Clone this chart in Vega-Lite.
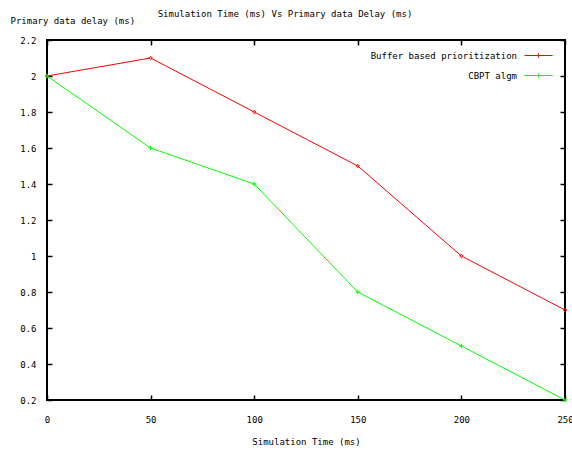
{
  "$schema": "https://vega.github.io/schema/vega-lite/v6.json",
  "width": 518,
  "height": 360,
  "autosize": {"type": "none"},
  "padding": {"left": 47, "top": 40, "right": 7, "bottom": 53},
  "background": "white",
  "title": {
    "text": "Simulation Time (ms) Vs Primary data Delay (ms)",
    "anchor": "middle",
    "frame": "group",
    "dx": -21,
    "offset": -3,
    "font": "DejaVu Sans Mono",
    "fontSize": 9,
    "fontWeight": "normal",
    "color": "black"
  },
  "config": {
    "view": {"stroke": "black", "strokeWidth": 2},
    "axis": {
      "domain": false,
      "grid": false,
      "labelFont": "DejaVu Sans Mono",
      "labelFontSize": 9,
      "labelColor": "black",
      "titleFont": "DejaVu Sans Mono",
      "titleFontSize": 9,
      "titleFontWeight": "normal",
      "titleColor": "black",
      "tickColor": "black",
      "tickSize": -5,
      "tickWidth": 1.5,
      "labelFlush": false,
      "labelOverlap": false
    },
    "legend": {
      "labelFont": "DejaVu Sans Mono",
      "labelFontSize": 9,
      "labelColor": "black"
    }
  },
  "data": {
    "values": [
      {"time": 0, "delay": 2.0, "series": "Buffer based prioritization"},
      {"time": 50, "delay": 2.1, "series": "Buffer based prioritization"},
      {"time": 100, "delay": 1.8, "series": "Buffer based prioritization"},
      {"time": 150, "delay": 1.5, "series": "Buffer based prioritization"},
      {"time": 200, "delay": 1.0, "series": "Buffer based prioritization"},
      {"time": 250, "delay": 0.7, "series": "Buffer based prioritization"},
      {"time": 0, "delay": 2.0, "series": "CBPT algm"},
      {"time": 50, "delay": 1.6, "series": "CBPT algm"},
      {"time": 100, "delay": 1.4, "series": "CBPT algm"},
      {"time": 150, "delay": 0.8, "series": "CBPT algm"},
      {"time": 200, "delay": 0.5, "series": "CBPT algm"},
      {"time": 250, "delay": 0.2, "series": "CBPT algm"}
    ]
  },
  "layer": [
    {
      "mark": {"type": "line", "strokeWidth": 1, "clip": false},
      "encoding": {
        "x": {
          "field": "time", "type": "quantitative",
          "scale": {"domain": [0, 250], "nice": false},
          "axis": {
            "orient": "bottom",
            "values": [0, 50, 100, 150, 200, 250],
            "labelPadding": 20,
            "title": "Simulation Time (ms)",
            "titleY": 41,
            "titleBaseline": "middle"
          }
        },
        "y": {
          "field": "delay", "type": "quantitative",
          "scale": {"domain": [0.2, 2.2], "nice": false, "zero": false},
          "axis": {
            "orient": "left",
            "values": [0.2, 0.4, 0.6, 0.8, 1.0, 1.2, 1.4, 1.6, 1.8, 2.0, 2.2],
            "format": ".1~f",
            "labelPadding": 16,
            "title": "Primary data delay (ms)",
            "titleAngle": 0,
            "titleAlign": "left",
            "titleBaseline": "middle",
            "titleX": -37,
            "titleY": -20
          }
        },
        "color": {
          "field": "series", "type": "nominal",
          "scale": {
            "domain": ["Buffer based prioritization", "CBPT algm"],
            "range": ["#ff0000", "#00ff00"]
          },
          "legend": {
            "title": null,
            "orient": "none",
            "legendX": 477,
            "legendY": 1,
            "symbolType": "M-1,0H1M0,-0.15V0.15",
            "symbolSize": 784,
            "symbolStrokeWidth": 1,
            "labelAlign": "right",
            "labelOffset": -36,
            "rowPadding": -10
          }
        }
      }
    },
    {
      "transform": [{"filter": "datum.series === 'Buffer based prioritization'"}],
      "mark": {"type": "point", "shape": "diamond", "filled": false, "size": 12, "strokeWidth": 1, "color": "#ff0000", "opacity": 1, "clip": false},
      "encoding": {
        "x": {
          "field": "time", "type": "quantitative",
          "axis": {"orient": "top", "labels": false, "title": null, "values": [0, 50, 100, 150, 200, 250]}
        },
        "y": {
          "field": "delay", "type": "quantitative",
          "axis": {"orient": "right", "labels": false, "title": null, "values": [0.2, 0.4, 0.6, 0.8, 1.0, 1.2, 1.4, 1.6, 1.8, 2.0, 2.2]}
        }
      }
    },
    {
      "transform": [{"filter": "datum.series === 'CBPT algm'"}],
      "mark": {"type": "point", "shape": "M-1,0H1M0,-1V1", "filled": false, "size": 20, "strokeWidth": 1, "color": "#00ff00", "opacity": 1, "clip": false},
      "encoding": {
        "x": {"field": "time", "type": "quantitative", "axis": null},
        "y": {"field": "delay", "type": "quantitative", "axis": null}
      }
    }
  ],
  "resolve": {"axis": {"x": "independent", "y": "independent"}}
}
